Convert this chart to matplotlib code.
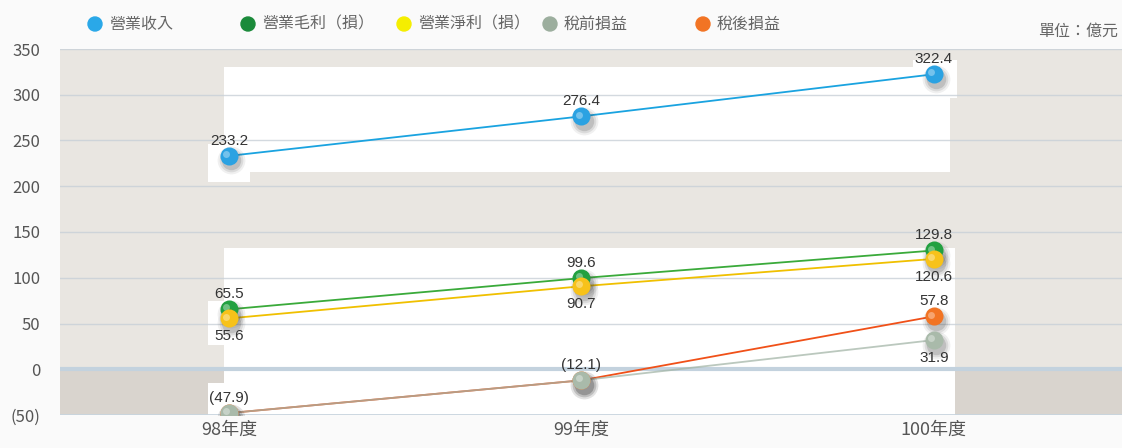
import matplotlib
matplotlib.use("Agg")
import matplotlib.pyplot as plt
from matplotlib.patches import Rectangle, Ellipse

plt.rcParams['font.family'] = ['Noto Sans CJK TC', 'DejaVu Sans']

categories = ['98年度', '99年度', '100年度']
revenue = [233.2, 276.4, 322.4]
gross = [65.5, 99.6, 129.8]
op_net = [55.6, 90.7, 120.6]
pretax = [-47.9, -12.1, 31.9]
posttax = [-47.9, -12.1, 57.8]
series_names = ['營業收入', '營業毛利（損）', '營業淨利（損）', '稅前損益', '稅後損益']
yticks = [-50, 0, 50, 100, 150, 200, 250, 300, 350]
ytick_labels = ['(50)', '0', '50', '100', '150', '200', '250', '300', '350']

W, H = 1122, 448
fig = plt.figure(figsize=(W / 100, H / 100), dpi=100, facecolor='#fafafa')
ax = fig.add_axes([60 / W, 33 / H, (W - 60) / W, 366 / H])
ax.set_facecolor('#e9e6e1')
x = list(range(len(categories)))
ax.set_xlim(-0.48, 2.534)
ax.set_ylim(-50, 350)

# negative region
ax.axhspan(-50, 0, color='#d9d4ce', zorder=0)

# white panels
def wrect(x0, x1, y0, y1):
    ax.add_patch(Rectangle((x0, y0), x1 - x0, y1 - y0, facecolor='white',
                           edgecolor='none', zorder=0.5))
wrect(-0.015, 2.047, 216, 330)
wrect(-0.06, 0.06, 205, 246)
wrect(1.94, 2.065, 296, 338)
wrect(-0.015, 2.06, -50, 133)
wrect(-0.06, 0.06, 26, 75)
wrect(-0.06, 0.06, -50, -15)

for yv in yticks:
    if yv == 0:
        ax.axhline(0, color='#c3d2de', lw=3, zorder=1)
    elif yv == -50:
        ax.axhline(yv, color='#c8d4de', lw=2, zorder=1)
    else:
        ax.axhline(yv, color='#c8d0d8', lw=1, alpha=0.8, zorder=1)

for s in ax.spines.values():
    s.set_visible(False)

ax.set_yticks(yticks)
ax.set_yticklabels(ytick_labels, fontsize=12, color='#555555')
ax.set_xticks(x)
ax.set_xticklabels(categories, fontsize=13, color='#555555')
ax.tick_params(length=0)
ax.tick_params(axis='y', pad=14)
ax.tick_params(axis='x', pad=4)

series = [
    (revenue, '#1aa3e0', '#2ba2e2', 1.0),
    (gross, '#3aaa3a', '#22a040', 1.0),
    (op_net, '#f0c000', '#f7c21a', 1.0),
    (posttax, '#f05018', '#f27424', 1.0),
    (pretax, '#a4b6a8', '#a9baaa', 0.75),
]

for i, (vals, lc, mc, alpha) in enumerate(series):
    ax.plot(x, vals, color=lc, lw=1.3, zorder=3 + i * 0.1, alpha=alpha)
for i, (vals, lc, mc, alpha) in enumerate(series):
    # soft shadow
    for ms, a in [(20, 0.08), (17, 0.12), (14, 0.18)]:
        ax.plot([xi + 0.006 for xi in x], [v - 5 for v in vals], 'o', ms=ms,
                color='#444444', alpha=a, mec='none', zorder=4 + i * 0.1)
    ax.plot(x, vals, 'o', ms=13, color=mc, mec='none', zorder=5 + i * 0.1)
    ax.plot([xi - 0.008 for xi in x], [v + 2 for v in vals], 'o', ms=5,
            color='white', alpha=0.35, mec='none', zorder=5.05 + i * 0.1)

def fmt(v):
    return f'({abs(v):.1f})' if v < 0 else f'{v:.1f}'

def lab(xi, v, above):
    ax.annotate(fmt(v), (xi, v), xytext=(0, 6 if above else -8),
                textcoords='offset points', ha='center',
                va='bottom' if above else 'top', fontsize=11, color='#333333',
                family=['Liberation Sans', 'DejaVu Sans'], zorder=6)

for xi in x:
    lab(xi, revenue[xi], True)
    lab(xi, gross[xi], True)
    lab(xi, op_net[xi], False)
lab(0, pretax[0], True)
lab(1, pretax[1], True)
lab(2, pretax[2], False)
lab(2, posttax[2], True)

# legend
leg_colors = ['#2aa8e8', '#1a8a3a', '#f5ee00', '#9cae9e', '#f27424']
leg_x = [95, 248, 404, 550, 703]
for lx, name, c in zip(leg_x, series_names, leg_colors):
    fig.add_artist(Ellipse((lx / W, 1 - 24 / H), 14 / W, 14 / H, color=c,
                           transform=fig.transFigure))
    fig.text((lx + 14) / W, 1 - 24 / H, name, fontsize=11.5, color='#666666',
             va='center', ha='left')
fig.text(1118 / W, 1 - 31 / H, '單位：億元', fontsize=11.5, color='#666666',
         va='center', ha='right')

fig.savefig('out.png', dpi=100, facecolor=fig.get_facecolor())
